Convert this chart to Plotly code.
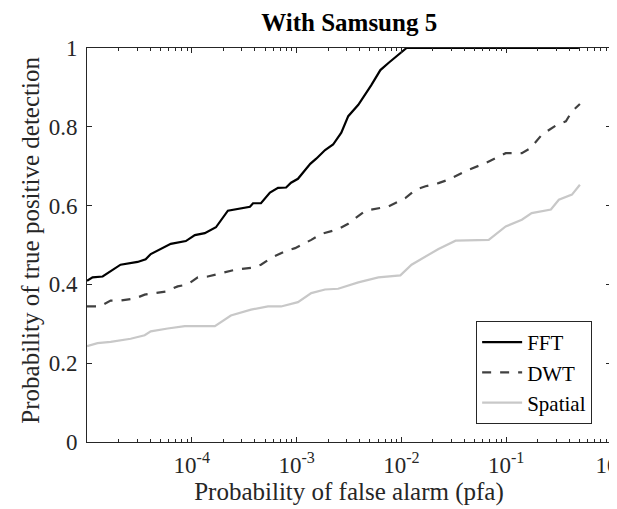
import plotly.graph_objects as go

# ---------------- data ----------------
fft_pfa = [1.0e-5, 1.13e-5, 1.41e-5, 1.75e-5, 2.09e-5, 3.04e-5, 3.63e-5, 4.06e-5, 5.05e-5,
           6.30e-5, 8.77e-5, 1.07e-4, 1.33e-4, 1.70e-4, 2.21e-4, 2.94e-4, 3.59e-4, 3.84e-4,
           4.57e-4, 5.57e-4, 6.65e-4, 7.94e-4, 8.85e-4, 1.03e-3, 1.35e-3, 1.54e-3, 1.87e-3,
           2.23e-3, 2.67e-3, 3.11e-3, 3.88e-3, 5.16e-3, 6.30e-3, 7.52e-3, 8.95e-3, 1.12e-2, 0.494]
fft_pd = [0.409, 0.418, 0.420, 0.436, 0.450, 0.457, 0.464, 0.477, 0.490,
          0.503, 0.510, 0.525, 0.530, 0.545, 0.587, 0.592, 0.597, 0.606,
          0.606, 0.633, 0.645, 0.646, 0.658, 0.668, 0.706, 0.719, 0.741,
          0.755, 0.785, 0.827, 0.856, 0.906, 0.944, 0.962, 0.979, 1.0, 1.0]

dwt_pfa = [1.0e-5, 1.32e-5, 1.68e-5, 2.09e-5, 2.85e-5, 3.55e-5, 5.64e-5, 7.34e-5, 9.16e-5,
           1.14e-4, 1.42e-4, 1.90e-4, 2.58e-4, 3.67e-4, 4.57e-4, 5.70e-4, 7.76e-4, 9.68e-4,
           1.38e-3, 1.71e-3, 2.49e-3, 3.11e-3, 4.53e-3, 7.52e-3, 1.09e-2, 1.36e-2, 1.70e-2,
           2.26e-2, 2.82e-2, 4.19e-2, 6.37e-2, 9.89e-2, 0.141, 0.171, 0.219, 0.304, 0.371,
           0.424, 0.505]
dwt_pd = [0.344, 0.344, 0.359, 0.359, 0.364, 0.374, 0.382, 0.395, 0.400,
          0.418, 0.420, 0.429, 0.437, 0.442, 0.450, 0.467, 0.484, 0.492,
          0.513, 0.528, 0.540, 0.554, 0.587, 0.598, 0.619, 0.640, 0.649,
          0.657, 0.666, 0.689, 0.708, 0.733, 0.733, 0.746, 0.780, 0.805, 0.814,
          0.839, 0.858]

spatial_pfa = [1.0e-5, 1.26e-5, 1.68e-5, 2.61e-5, 3.55e-5, 4.06e-5, 5.89e-5, 8.57e-5, 1.66e-4,
               2.36e-4, 3.67e-4, 5.33e-4, 7.11e-4, 1.03e-3, 1.38e-3, 1.87e-3, 2.49e-3, 3.11e-3,
               3.88e-3, 6.03e-3, 9.77e-3, 1.25e-2, 1.70e-2, 2.26e-2, 3.29e-2, 6.81e-2, 9.89e-2,
               0.141, 0.175, 0.267, 0.318, 0.424, 0.505]
spatial_pd = [0.243, 0.251, 0.254, 0.262, 0.271, 0.281, 0.288, 0.294, 0.294,
              0.321, 0.336, 0.344, 0.344, 0.355, 0.378, 0.387, 0.389, 0.397,
              0.405, 0.418, 0.423, 0.450, 0.471, 0.490, 0.511, 0.513, 0.547,
              0.564, 0.581, 0.590, 0.615, 0.628, 0.653]

x_tickvals = [1e-4, 1e-3, 1e-2, 1e-1, 1e0]
x_ticktext = ["10<sup>-4</sup>", "10<sup>-3</sup>", "10<sup>-2</sup>", "10<sup>-1</sup>", "10<sup>0</sup>"]
y_tickvals = [0, 0.2, 0.4, 0.6, 0.8, 1]
y_ticktext = ["0", "0.2", "0.4", "0.6", "0.8", "1"]

# ---------------- figure ----------------
FONT = "Liberation Serif, Times New Roman, serif"
AX = "#262626"

fig = go.Figure()
fig.add_trace(go.Scatter(x=fft_pfa, y=fft_pd, mode="lines", name="FFT",
                         line=dict(color="#000000", width=2.2)))
fig.add_trace(go.Scatter(x=dwt_pfa, y=dwt_pd, mode="lines", name="DWT",
                         line=dict(color="#404040", width=2.2, dash="dash")))
fig.add_trace(go.Scatter(x=spatial_pfa, y=spatial_pd, mode="lines", name="Spatial",
                         line=dict(color="#c8c8c8", width=2.2)))

fig.update_layout(
    width=617, height=509,
    margin=dict(l=79, r=14, t=40, b=75),
    paper_bgcolor="white", plot_bgcolor="white",
    font=dict(family=FONT, size=23, color=AX),
    title=dict(text="<b>With Samsung 5</b>", x=0.553, xanchor="center",
               y=1 - 5 / 509, yanchor="top",
               font=dict(family=FONT, size=25, color="#000000")),
    showlegend=True,
    legend=dict(x=0.964, y=0.046, xanchor="right", yanchor="bottom",
                bordercolor=AX, borderwidth=1, bgcolor="white",
                font=dict(family=FONT, size=21, color="#000000"),
                tracegroupgap=0, itemwidth=40),
    annotations=[dict(text="Probability of true positive detection", textangle=-90,
                      xref="paper", yref="paper", x=-56 / 524, y=0.511,
                      xanchor="center", yanchor="middle", showarrow=False,
                      font=dict(family=FONT, size=25, color=AX))],
)

fig.update_xaxes(
    type="log", range=[-5, 0], automargin=False,
    tickmode="array", tickvals=x_tickvals, ticktext=x_ticktext,
    ticklabeloverflow="allow",
    ticks="inside", ticklen=5, tickcolor=AX, tickwidth=1, ticklabelstandoff=2,
    minor=dict(ticks="inside", ticklen=3, tickcolor=AX, dtick="D1", showgrid=False),
    showline=True, linecolor=AX, linewidth=1, mirror="ticks",
    showgrid=False, zeroline=False,
    tickfont=dict(family=FONT, size=23, color=AX),
    title=dict(text="Probability of false alarm (pfa)", standoff=2,
               font=dict(family=FONT, size=25, color=AX)),
)
fig.update_yaxes(
    range=[0, 1], automargin=False,
    tickmode="array", tickvals=y_tickvals, ticktext=y_ticktext,
    ticks="inside", ticklen=5, tickcolor=AX, tickwidth=1, ticklabelstandoff=4,
    showline=True, linecolor=AX, linewidth=1, mirror="ticks",
    showgrid=False, zeroline=False,
    tickfont=dict(family=FONT, size=23, color=AX),
)

fig.write_html("out.html")
